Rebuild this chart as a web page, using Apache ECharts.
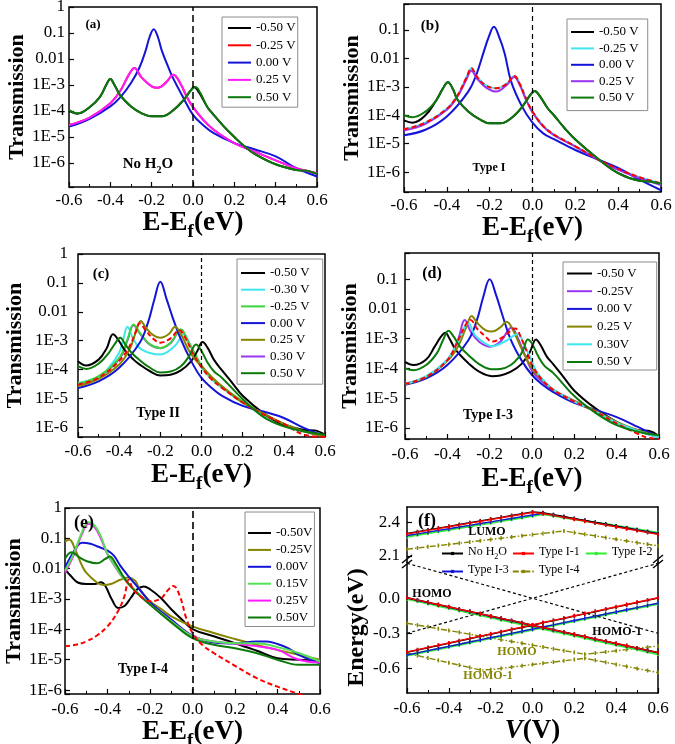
<!DOCTYPE html>
<html><head><meta charset="utf-8">
<script src="https://cdn.jsdelivr.net/npm/echarts@6/dist/echarts.min.js"></script>
<style>html,body{margin:0;padding:0;background:#fff}#c{width:675px;height:744px}</style>
</head><body><div id="c"></div>
<script>
// ---------------- tick labels ----------------
const xTickLabels = ['-0.6','-0.4','-0.2','0.0','0.2','0.4','0.6'];
const logTickExponents = [-6,-5,-4,-3,-2,-1,0];
const logTickLabels = ['1E-6','1E-5','1E-4','1E-3','0.01','0.1','1'];
const fUpperTicks = [2.1, 2.4];
const fLowerTicks = [-0.6, -0.3, 0.0];

// ---------------- legend names ----------------
const namesA = ['-0.50 V','-0.25 V','0.00 V','0.25 V','0.50 V'];
const namesB = ['-0.50 V','-0.25 V','0.00 V','0.25 V','0.50 V'];
const namesC = ['-0.50 V','-0.30 V','-0.25 V','0.00 V','0.25 V','0.30 V','0.50 V'];
const namesD = ['-0.50 V','-0.25V','0.00 V','0.25 V','0.30V','0.50 V'];
const namesE = ['-0.50V','-0.25V','0.00V','0.15V','0.25V','0.50V'];
const namesF = ['No H2O','Type I-1','Type I-2','Type I-3','Type I-4'];

// ---------------- panel (a): No H2O ----------------
const aM050 = [[-0.6,1.0e-4],[-0.56,7.9e-5],[-0.5,1.4e-4],[-0.45,3.5e-4],[-0.42,1.0e-3],[-0.4,1.7e-3],[-0.38,1.0e-3],[-0.35,3.8e-4],[-0.3,1.5e-4],[-0.25,8.3e-5],[-0.2,6.3e-5],[-0.15,6.3e-5],[-0.1,1.0e-4],[-0.05,2.4e-4],[-0.01,6.3e-4],[0.005,8.3e-4],[0.03,5.0e-4],[0.07,1.4e-4],[0.1,7.1e-5],[0.15,2.5e-5],[0.2,1.0e-5],[0.25,4.3e-6],[0.3,2.2e-6],[0.4,8.9e-7],[0.5,5.4e-7],[0.55,5.0e-7],[0.6,3.8e-7]];
const aM025 = [[-0.6,2.9e-5],[-0.5,5.6e-5],[-0.4,2.0e-4],[-0.35,6.3e-4],[-0.31,2.5e-3],[-0.283,4.5e-3],[-0.25,2.0e-3],[-0.2,8.9e-4],[-0.17,7.9e-4],[-0.13,1.26e-3],[-0.095,2.5e-3],[-0.06,1.1e-3],[-0.03,3.5e-4],[0,1.4e-4],[0.05,4.5e-5],[0.1,1.9e-5],[0.2,5.8e-6],[0.3,2.7e-6],[0.4,1.26e-6],[0.5,6.3e-7],[0.6,4.0e-7]];
const a000 = [[-0.6,2.5e-5],[-0.5,5.0e-5],[-0.4,1.5e-4],[-0.35,3.5e-4],[-0.3,1.2e-3],[-0.26,4.5e-3],[-0.23,0.02],[-0.21,0.07],[-0.19,0.14],[-0.17,0.07],[-0.15,0.02],[-0.12,5.0e-3],[-0.1,2.1e-3],[-0.05,3.6e-4],[0,7.1e-5],[0.05,2.8e-5],[0.1,1.4e-5],[0.2,5.8e-6],[0.3,3.3e-6],[0.4,1.8e-6],[0.5,6.3e-7],[0.6,3.0e-7]];
const a025 = [[-0.6,2.9e-5],[-0.5,5.6e-5],[-0.4,2.0e-4],[-0.35,6.3e-4],[-0.31,2.5e-3],[-0.283,4.5e-3],[-0.25,2.0e-3],[-0.2,8.9e-4],[-0.17,7.9e-4],[-0.13,1.26e-3],[-0.095,2.5e-3],[-0.06,1.1e-3],[-0.03,3.5e-4],[0,1.4e-4],[0.05,4.5e-5],[0.1,1.9e-5],[0.2,5.8e-6],[0.3,2.7e-6],[0.4,1.26e-6],[0.5,6.3e-7],[0.6,4.0e-7]];
const a050 = [[-0.6,1.1e-4],[-0.56,8.1e-5],[-0.5,1.4e-4],[-0.45,3.5e-4],[-0.42,1.0e-3],[-0.4,1.7e-3],[-0.38,1.0e-3],[-0.35,3.8e-4],[-0.3,1.5e-4],[-0.25,8.3e-5],[-0.2,6.3e-5],[-0.15,6.3e-5],[-0.1,1.0e-4],[-0.05,2.4e-4],[-0.01,6.3e-4],[0.012,8.3e-4],[0.035,5.0e-4],[0.07,1.4e-4],[0.1,7.1e-5],[0.15,2.5e-5],[0.2,1.0e-5],[0.25,4.3e-6],[0.3,2.2e-6],[0.4,8.9e-7],[0.5,5.4e-7],[0.55,5.0e-7],[0.6,3.8e-7]];

// ---------------- panel (b): Type I ----------------
const bM050 = [[-0.6,6.6e-5],[-0.56,5.5e-5],[-0.5,1.0e-4],[-0.45,3.3e-4],[-0.42,8.3e-4],[-0.395,1.45e-3],[-0.37,7.9e-4],[-0.35,3.5e-4],[-0.3,1.35e-4],[-0.25,7.4e-5],[-0.2,5.2e-5],[-0.15,5.2e-5],[-0.1,7.9e-5],[-0.05,1.9e-4],[-0.01,5.2e-4],[0.01,7.2e-4],[0.035,4.6e-4],[0.07,1.8e-4],[0.1,1.0e-4],[0.15,3.5e-5],[0.2,1.4e-5],[0.3,3.2e-6],[0.4,9.3e-7],[0.5,5.0e-7],[0.55,4.7e-7],[0.6,3.9e-7]];
const bM025 = [[-0.6,3.2e-5],[-0.5,5.5e-5],[-0.4,1.7e-4],[-0.35,5.0e-4],[-0.31,2.0e-3],[-0.285,4.5e-3],[-0.26,2.3e-3],[-0.22,1.15e-3],[-0.17,8.9e-4],[-0.12,1.3e-3],[-0.085,2.4e-3],[-0.06,1.3e-3],[-0.03,3.8e-4],[0,1.35e-4],[0.05,4.2e-5],[0.1,2.1e-5],[0.2,8.1e-6],[0.3,3.0e-6],[0.4,1.3e-6],[0.5,6.6e-7],[0.6,4.0e-7]];
const b000 = [[-0.6,2.0e-5],[-0.5,3.1e-5],[-0.4,9.1e-5],[-0.3,6.8e-4],[-0.26,3.0e-3],[-0.23,0.015],[-0.205,0.055],[-0.18,0.13],[-0.155,0.055],[-0.13,0.015],[-0.1,1.55e-3],[-0.05,2.1e-4],[0,5.5e-5],[0.05,2.3e-5],[0.1,1.45e-5],[0.2,6.0e-6],[0.3,2.9e-6],[0.4,1.4e-6],[0.5,5.4e-7],[0.6,2.3e-7]];
const b025 = [[-0.6,2.9e-5],[-0.5,5.0e-5],[-0.4,1.55e-4],[-0.35,4.6e-4],[-0.31,1.74e-3],[-0.285,3.7e-3],[-0.26,2.0e-3],[-0.22,9.8e-4],[-0.17,6.8e-4],[-0.12,1.17e-3],[-0.085,2.2e-3],[-0.06,1.17e-3],[-0.03,3.5e-4],[0,1.26e-4],[0.05,4.0e-5],[0.1,2.0e-5],[0.2,7.9e-6],[0.3,2.9e-6],[0.4,1.2e-6],[0.5,6.2e-7],[0.6,3.5e-7]];
const bDash = [[-0.6,3.2e-5],[-0.5,5.5e-5],[-0.4,1.7e-4],[-0.35,5.0e-4],[-0.31,2.0e-3],[-0.285,4.5e-3],[-0.26,2.3e-3],[-0.22,1.15e-3],[-0.17,8.9e-4],[-0.12,1.3e-3],[-0.085,2.4e-3],[-0.06,1.3e-3],[-0.03,3.8e-4],[0,1.35e-4],[0.05,4.2e-5],[0.1,2.1e-5],[0.2,8.1e-6],[0.3,3.0e-6],[0.4,1.3e-6],[0.5,6.6e-7],[0.6,4.0e-7]];
const b050 = [[-0.6,1.0e-4],[-0.56,8.5e-5],[-0.5,1.35e-4],[-0.45,3.3e-4],[-0.42,8.3e-4],[-0.395,1.45e-3],[-0.37,7.9e-4],[-0.35,3.5e-4],[-0.3,1.35e-4],[-0.25,7.4e-5],[-0.2,5.2e-5],[-0.15,5.2e-5],[-0.1,7.9e-5],[-0.05,1.9e-4],[-0.01,5.2e-4],[0.01,7.2e-4],[0.035,4.6e-4],[0.07,1.8e-4],[0.1,1.0e-4],[0.15,3.5e-5],[0.2,1.4e-5],[0.3,3.2e-6],[0.4,9.3e-7],[0.5,5.0e-7],[0.55,4.7e-7],[0.6,3.9e-7]];

// ---------------- panel (c): Type II ----------------
const cM050 = [[-0.6,1.95e-4],[-0.56,1.38e-4],[-0.5,2.2e-4],[-0.46,5.6e-4],[-0.43,1.66e-3],[-0.4,9.5e-4],[-0.37,4.4e-4],[-0.33,2.2e-4],[-0.3,1.48e-4],[-0.25,8.7e-5],[-0.2,6.2e-5],[-0.15,6.6e-5],[-0.1,9.3e-5],[-0.05,1.95e-4],[-0.02,4.4e-4],[0.005,8.9e-4],[0.03,5.6e-4],[0.06,2.2e-4],[0.1,9.3e-5],[0.15,3.4e-5],[0.2,1.23e-5],[0.3,3.1e-6],[0.4,1.2e-6],[0.5,8.1e-7],[0.55,7.8e-7],[0.6,5.5e-7]];
const cM030 = [[-0.6,3.4e-5],[-0.5,5.5e-5],[-0.45,1.15e-4],[-0.4,3.8e-4],[-0.38,1.1e-3],[-0.36,3.0e-3],[-0.33,1.1e-3],[-0.29,4.9e-4],[-0.2,3.3e-4],[-0.13,6.5e-4],[-0.085,1.66e-3],[-0.06,8.5e-4],[-0.03,2.9e-4],[0,1.15e-4],[0.05,4.5e-5],[0.1,2.3e-5],[0.2,6.9e-6],[0.3,2.7e-6],[0.4,1.2e-6],[0.5,7.1e-7],[0.6,4.8e-7]];
const cM025 = [[-0.6,3.2e-5],[-0.5,5.9e-5],[-0.4,2.5e-4],[-0.36,1.1e-3],[-0.33,3.6e-3],[-0.3,1.86e-3],[-0.25,7.4e-4],[-0.2,5.6e-4],[-0.15,8.5e-4],[-0.1,2.5e-3],[-0.07,1.1e-3],[-0.03,3.3e-4],[0,1.38e-4],[0.05,5.1e-5],[0.1,2.6e-5],[0.2,7.9e-6],[0.3,3.0e-6],[0.4,1.3e-6],[0.5,7.8e-7],[0.6,5.5e-7]];
const c000 = [[-0.6,2.3e-5],[-0.5,3.9e-5],[-0.4,1.15e-4],[-0.3,8.5e-4],[-0.26,4.2e-3],[-0.23,0.025],[-0.2,0.11],[-0.17,0.028],[-0.14,6.3e-3],[-0.1,1.1e-3],[-0.05,1.95e-4],[0,5.1e-5],[0.05,2.3e-5],[0.1,1.23e-5],[0.2,5.5e-6],[0.3,3.5e-6],[0.4,2.1e-6],[0.5,9.3e-7],[0.6,5.0e-7]];
const c025 = [[-0.6,2.6e-5],[-0.5,4.7e-5],[-0.4,1.48e-4],[-0.35,4.9e-4],[-0.32,1.86e-3],[-0.295,4.8e-3],[-0.27,2.8e-3],[-0.24,1.66e-3],[-0.2,1.26e-3],[-0.16,1.66e-3],[-0.128,3.0e-3],[-0.1,1.66e-3],[-0.06,4.4e-4],[-0.03,2.2e-4],[0,1.3e-4],[0.05,5.5e-5],[0.1,2.6e-5],[0.2,7.2e-6],[0.3,3.0e-6],[0.4,1.3e-6],[0.5,7.1e-7],[0.6,4.8e-7]];
const c030 = [[-0.6,3.0e-5],[-0.5,5.6e-5],[-0.4,2.3e-4],[-0.36,1.0e-3],[-0.33,3.4e-3],[-0.3,1.8e-3],[-0.25,7.2e-4],[-0.2,5.5e-4],[-0.15,8.3e-4],[-0.1,2.4e-3],[-0.07,1.05e-3],[-0.03,3.2e-4],[0,1.3e-4],[0.05,5.0e-5],[0.1,2.5e-5],[0.2,7.6e-6],[0.3,2.9e-6],[0.4,1.3e-6],[0.5,7.6e-7],[0.6,5.3e-7]];
const c050 = [[-0.6,1.3e-4],[-0.56,1.05e-4],[-0.5,1.6e-4],[-0.45,3.8e-4],[-0.42,7.9e-4],[-0.395,1.26e-3],[-0.37,7.4e-4],[-0.34,3.8e-4],[-0.3,2.1e-4],[-0.25,1.15e-4],[-0.2,7.9e-5],[-0.15,8.5e-5],[-0.1,1.3e-4],[-0.06,2.9e-4],[-0.027,7.4e-4],[0,4.4e-4],[0.03,1.7e-4],[0.06,8.7e-5],[0.1,5.1e-5],[0.2,9.5e-6],[0.3,2.3e-6],[0.4,1.07e-6],[0.5,7.1e-7],[0.6,5.5e-7]];
const cDash = [[-0.6,3.0e-5],[-0.5,5.2e-5],[-0.4,2.0e-4],[-0.35,6.3e-4],[-0.32,2.0e-3],[-0.3,4.0e-3],[-0.27,2.2e-3],[-0.23,1.1e-3],[-0.2,8.5e-4],[-0.15,1.2e-3],[-0.108,2.3e-3],[-0.08,1.3e-3],[-0.04,3.5e-4],[0,1.2e-4],[0.05,4.5e-5],[0.1,2.3e-5],[0.2,7.2e-6],[0.3,2.8e-6],[0.4,1.3e-6],[0.5,5.5e-7],[0.6,4.6e-7]];

// ---------------- panel (d): Type I-3 ----------------
const dM050 = [[-0.6,1.66e-4],[-0.56,1.3e-4],[-0.5,2.0e-4],[-0.46,5.4e-4],[-0.43,1.17e-3],[-0.41,1.58e-3],[-0.39,1.02e-3],[-0.36,4.2e-4],[-0.3,1.48e-4],[-0.25,7.8e-5],[-0.19,5.5e-5],[-0.15,5.8e-5],[-0.1,7.8e-5],[-0.05,1.4e-4],[-0.01,3.6e-4],[0.019,9.5e-4],[0.04,6.2e-4],[0.07,2.5e-4],[0.1,1.4e-4],[0.15,5.0e-5],[0.2,1.78e-5],[0.3,4.5e-6],[0.4,1.58e-6],[0.5,8.3e-7],[0.55,7.9e-7],[0.6,5.2e-7]];
const dM025 = [[-0.6,3.1e-5],[-0.5,5.2e-5],[-0.4,1.9e-4],[-0.35,9.1e-4],[-0.317,4.3e-3],[-0.29,1.74e-3],[-0.25,7.9e-4],[-0.2,5.4e-4],[-0.15,7.9e-4],[-0.096,2.4e-3],[-0.07,1.17e-3],[-0.03,2.5e-4],[0,8.3e-5],[0.05,3.5e-5],[0.1,1.86e-5],[0.2,8.1e-6],[0.3,3.5e-6],[0.4,1.48e-6],[0.5,7.9e-7],[0.6,4.7e-7]];
const d000 = [[-0.6,2.8e-5],[-0.5,4.6e-5],[-0.4,1.3e-4],[-0.3,9.1e-4],[-0.26,4.3e-3],[-0.23,0.026],[-0.2,0.1],[-0.17,0.03],[-0.14,6.3e-3],[-0.1,9.1e-4],[-0.05,1.9e-4],[0,6.0e-5],[0.05,2.8e-5],[0.1,1.6e-5],[0.2,6.9e-6],[0.3,4.0e-6],[0.4,2.3e-6],[0.5,1.07e-6],[0.6,4.7e-7]];
const d025 = [[-0.6,3.0e-5],[-0.5,5.2e-5],[-0.4,1.8e-4],[-0.35,5.4e-4],[-0.31,2.5e-3],[-0.285,5.8e-3],[-0.26,3.5e-3],[-0.22,1.95e-3],[-0.19,1.74e-3],[-0.15,2.4e-3],[-0.12,3.7e-3],[-0.09,1.95e-3],[-0.05,4.7e-4],[0,1.0e-4],[0.05,4.1e-5],[0.1,1.95e-5],[0.2,8.1e-6],[0.3,3.7e-6],[0.4,1.58e-6],[0.5,8.3e-7],[0.6,5.0e-7]];
const d030 = [[-0.6,3.0e-5],[-0.5,5.5e-5],[-0.4,2.0e-4],[-0.35,7.9e-4],[-0.3,3.3e-3],[-0.27,1.32e-3],[-0.22,6.9e-4],[-0.19,5.6e-4],[-0.13,7.9e-4],[-0.066,1.45e-3],[-0.04,6.9e-4],[-0.01,2.5e-4],[0.02,8.0e-5],[0.05,4.3e-5],[0.1,1.95e-5],[0.2,7.6e-6],[0.3,3.5e-6],[0.4,1.48e-6],[0.5,7.9e-7],[0.6,4.7e-7]];
const d050 = [[-0.6,1.0e-4],[-0.56,8.7e-5],[-0.5,1.3e-4],[-0.45,3.2e-4],[-0.42,9.1e-4],[-0.395,1.86e-3],[-0.37,1.17e-3],[-0.34,5.4e-4],[-0.3,2.8e-4],[-0.25,1.4e-4],[-0.19,9.3e-5],[-0.15,9.5e-5],[-0.1,1.3e-4],[-0.06,2.5e-4],[-0.04,4.5e-4],[-0.02,9.5e-4],[0,6.9e-4],[0.03,2.5e-4],[0.06,1.2e-4],[0.1,7.1e-5],[0.2,1.17e-5],[0.3,3.2e-6],[0.4,1.23e-6],[0.5,7.4e-7],[0.6,5.6e-7]];
const dDash = [[-0.6,3.0e-5],[-0.5,5.2e-5],[-0.4,1.9e-4],[-0.35,8.5e-4],[-0.31,3.2e-3],[-0.29,4.3e-3],[-0.26,2.2e-3],[-0.22,1.2e-3],[-0.19,8.0e-4],[-0.14,1.1e-3],[-0.08,2.2e-3],[-0.05,1.0e-3],[-0.02,3.0e-4],[0,1.3e-4],[0.05,4.0e-5],[0.1,1.9e-5],[0.2,7.6e-6],[0.3,3.5e-6],[0.4,1.4e-6],[0.5,6.3e-7],[0.55,4.6e-7],[0.6,4.3e-7]];

// ---------------- panel (e): Type I-4 ----------------
const eM050 = [[-0.6,9.5e-3],[-0.57,5.5e-3],[-0.54,3.5e-3],[-0.5,3.1e-3],[-0.46,3.1e-3],[-0.43,3.6e-3],[-0.41,2.7e-3],[-0.38,9.8e-4],[-0.35,5.1e-4],[-0.32,5.9e-4],[-0.29,1.1e-3],[-0.26,2.1e-3],[-0.23,2.6e-3],[-0.2,2.1e-3],[-0.15,1.1e-3],[-0.1,4.6e-4],[-0.05,2.1e-4],[0,1.02e-4],[0.1,5.9e-5],[0.2,3.5e-5],[0.3,2.0e-5],[0.4,1.12e-5],[0.5,1.0e-5],[0.6,9.3e-6]];
const eM025 = [[-0.6,0.078],[-0.58,0.091],[-0.55,0.039],[-0.52,0.0126],[-0.5,7.4e-3],[-0.45,3.5e-3],[-0.42,2.9e-3],[-0.38,3.2e-3],[-0.34,4.3e-3],[-0.3,5.1e-3],[-0.27,4.0e-3],[-0.25,2.2e-3],[-0.2,8.5e-4],[-0.15,4.8e-4],[-0.1,2.7e-4],[0,1.26e-4],[0.1,7.6e-5],[0.2,4.8e-5],[0.3,3.1e-5],[0.4,2.1e-5],[0.5,1.45e-5],[0.6,1.0e-5]];
const e000 = [[-0.6,0.011],[-0.57,0.027],[-0.54,0.058],[-0.52,0.071],[-0.48,0.066],[-0.45,0.055],[-0.4,0.039],[-0.37,0.027],[-0.34,0.0126],[-0.3,5.5e-3],[-0.25,2.1e-3],[-0.2,7.9e-4],[-0.1,2.1e-4],[0,6.2e-5],[0.1,3.7e-5],[0.2,3.4e-5],[0.3,4.0e-5],[0.35,4.0e-5],[0.4,3.3e-5],[0.45,2.4e-5],[0.5,1.45e-5],[0.6,7.6e-6]];
const e015 = [[-0.6,8.5e-3],[-0.56,0.03],[-0.52,0.16],[-0.49,0.34],[-0.46,0.26],[-0.43,0.11],[-0.4,0.03],[-0.37,0.014],[-0.34,6.6e-3],[-0.3,3.1e-3],[-0.25,1.4e-3],[-0.2,6.6e-4],[-0.1,1.86e-4],[0,5.9e-5],[0.1,4.0e-5],[0.2,3.5e-5],[0.3,3.5e-5],[0.4,2.6e-5],[0.5,1.66e-5],[0.6,8.7e-6]];
const e025 = [[-0.6,7.4e-3],[-0.56,0.027],[-0.52,0.14],[-0.49,0.3],[-0.46,0.23],[-0.43,0.095],[-0.4,0.03],[-0.37,0.0135],[-0.34,6.5e-3],[-0.3,3.1e-3],[-0.25,1.4e-3],[-0.2,6.6e-4],[-0.1,1.86e-4],[0,6.0e-5],[0.1,4.0e-5],[0.2,3.4e-5],[0.3,2.8e-5],[0.4,2.1e-5],[0.5,1.0e-5],[0.6,8.1e-6]];
const e050 = [[-0.6,0.021],[-0.57,0.035],[-0.53,0.023],[-0.5,0.018],[-0.45,0.015],[-0.41,0.021],[-0.39,0.025],[-0.36,0.014],[-0.33,6.2e-3],[-0.3,3.1e-3],[-0.25,1.32e-3],[-0.2,6.6e-4],[-0.1,1.7e-4],[0,5.1e-5],[0.1,3.1e-5],[0.2,2.4e-5],[0.3,1.66e-5],[0.4,1.0e-5],[0.5,6.8e-6],[0.6,6.8e-6]];
const eDash = [[-0.6,2.8e-5],[-0.55,3.1e-5],[-0.5,4.0e-5],[-0.45,6.3e-5],[-0.4,1.26e-4],[-0.35,4.0e-4],[-0.32,1.26e-3],[-0.3,4.3e-3],[-0.28,2.1e-3],[-0.25,1.32e-3],[-0.2,8.5e-4],[-0.15,1.02e-3],[-0.12,1.8e-3],[-0.09,2.7e-3],[-0.06,1.26e-3],[-0.03,2.4e-4],[0,7.6e-5],[0.05,2.9e-5],[0.1,1.66e-5],[0.2,6.3e-6],[0.3,2.5e-6],[0.4,1.29e-6],[0.5,7.4e-7],[0.55,5.5e-7],[0.6,4.0e-7]];

// ---------------- panel (f): energy levels vs bias ----------------
const fVolts = [-0.6,-0.55,-0.5,-0.45,-0.4,-0.35,-0.3,-0.25,-0.2,-0.15,-0.1,-0.05,0,0.05,0.1,0.15,0.2,0.25,0.3,0.35,0.4,0.45,0.5,0.55,0.6];
const fLumoNoH2O = [2.300,2.316,2.332,2.348,2.364,2.380,2.396,2.412,2.428,2.444,2.460,2.476,2.492,2.485,2.468,2.451,2.433,2.416,2.399,2.382,2.365,2.348,2.330,2.313,2.296];
const fLumoI1 = [2.296,2.312,2.328,2.344,2.360,2.376,2.392,2.408,2.424,2.440,2.456,2.472,2.488,2.478,2.461,2.444,2.427,2.410,2.393,2.376,2.359,2.342,2.326,2.309,2.292];
const fLumoI2 = [2.272,2.288,2.303,2.319,2.334,2.350,2.365,2.381,2.396,2.412,2.427,2.443,2.458,2.474,2.459,2.443,2.428,2.413,2.397,2.382,2.367,2.352,2.336,2.321,2.306];
const fLumoI3 = [2.282,2.297,2.312,2.328,2.343,2.358,2.373,2.389,2.404,2.419,2.434,2.450,2.465,2.480,2.464,2.447,2.431,2.415,2.398,2.382,2.365,2.349,2.333,2.316,2.300];
const fLumoI4 = [2.160,2.171,2.182,2.193,2.203,2.214,2.225,2.236,2.247,2.258,2.269,2.280,2.290,2.301,2.312,2.323,2.308,2.293,2.279,2.264,2.249,2.234,2.219,2.205,2.190];
const fHomoANoH2O = [0.005,-0.015,-0.034,-0.054,-0.073,-0.093,-0.112,-0.132,-0.152,-0.171,-0.191,-0.210,-0.230,-0.250,-0.269,-0.289,-0.308,-0.328,-0.348,-0.367,-0.387,-0.406,-0.426,-0.446,-0.465];
const fHomoBNoH2O = [-0.463,-0.444,-0.424,-0.405,-0.386,-0.366,-0.347,-0.327,-0.308,-0.289,-0.269,-0.250,-0.231,-0.211,-0.192,-0.173,-0.153,-0.134,-0.115,-0.095,-0.076,-0.056,-0.037,-0.018,0.002];
const fHomoAI1 = [0.004,-0.016,-0.035,-0.055,-0.074,-0.094,-0.113,-0.133,-0.153,-0.172,-0.192,-0.211,-0.231,-0.251,-0.270,-0.290,-0.309,-0.329,-0.349,-0.368,-0.388,-0.407,-0.427,-0.447,-0.466];
const fHomoBI1 = [-0.460,-0.441,-0.421,-0.402,-0.383,-0.363,-0.344,-0.324,-0.305,-0.286,-0.266,-0.247,-0.228,-0.208,-0.189,-0.170,-0.150,-0.131,-0.112,-0.092,-0.073,-0.053,-0.034,-0.015,0.005];
const fHomoAI2 = [-0.004,-0.024,-0.044,-0.064,-0.084,-0.104,-0.124,-0.144,-0.164,-0.184,-0.204,-0.224,-0.244,-0.262,-0.281,-0.301,-0.320,-0.340,-0.360,-0.379,-0.399,-0.418,-0.438,-0.458,-0.478];
const fHomoBI2 = [-0.490,-0.472,-0.453,-0.435,-0.416,-0.398,-0.379,-0.361,-0.342,-0.324,-0.305,-0.287,-0.268,-0.250,-0.232,-0.213,-0.195,-0.176,-0.158,-0.139,-0.121,-0.102,-0.084,-0.065,-0.047];
const fHomoAI3 = [0.002,-0.018,-0.038,-0.057,-0.077,-0.097,-0.116,-0.136,-0.156,-0.175,-0.195,-0.215,-0.234,-0.253,-0.273,-0.292,-0.312,-0.331,-0.351,-0.370,-0.390,-0.410,-0.429,-0.449,-0.468];
const fHomoBI3 = [-0.486,-0.468,-0.449,-0.431,-0.412,-0.394,-0.375,-0.357,-0.338,-0.320,-0.301,-0.283,-0.264,-0.246,-0.228,-0.209,-0.191,-0.172,-0.154,-0.135,-0.117,-0.098,-0.080,-0.061,-0.043];
const fHomoI4 = [-0.214,-0.230,-0.245,-0.261,-0.277,-0.292,-0.308,-0.324,-0.339,-0.355,-0.370,-0.386,-0.402,-0.417,-0.433,-0.449,-0.464,-0.480,-0.470,-0.460,-0.450,-0.440,-0.429,-0.419,-0.409];
const fHomo1I4 = [-0.471,-0.491,-0.512,-0.532,-0.553,-0.573,-0.594,-0.614,-0.612,-0.601,-0.590,-0.579,-0.568,-0.557,-0.547,-0.536,-0.525,-0.514,-0.532,-0.549,-0.567,-0.584,-0.602,-0.619,-0.637];
const fBiasVolts = [-0.6, 0.6];
const fMuLeft = [0.3, -0.3];
const fMuRight = [-0.3, 0.3];

// ================= styling / building =================
const FONT = 'Liberation Serif';
const BLK = '#000';
const C = {black:'#000000', red:'#ff0000', blue:'#1414d8', magenta:'#ff1aff', dkgreen:'#0b7a0b',
  cyan:'#3fe6ee', purple:'#9a35f0', green:'#3ad63a', olive:'#858500', ltgreen:'#55e055', fgreen:'#33ee33'};

function fmtX(v){ const i = Math.round((v + 0.6) / 0.2); return xTickLabels[i] !== undefined ? xTickLabels[i] : ''; }
function fmtLog(v){ const e = Math.log10(v); const r = Math.round(e); if (Math.abs(e - r) > 1e-6) return ''; const i = logTickExponents.indexOf(r); return i >= 0 ? logTickLabels[i] : ''; }

const RICH_T = {
  m:{fontFamily:FONT,fontSize:27,fontWeight:'bold',color:BLK,verticalAlign:'bottom',padding:[0,0,5,0]},
  s:{fontFamily:FONT,fontSize:19,fontWeight:'bold',color:BLK,verticalAlign:'bottom'},
  i:{fontFamily:FONT,fontSize:27,fontWeight:'bold',fontStyle:'italic',color:BLK,verticalAlign:'bottom',padding:[0,0,5,0]}
};

// layout of panels (pixel style info only)
const P = [
  {g:[69,7,248,180],   ymin:1.19e-7, ymax:1,    ylm:4,  yng:38, xlm:5, xng:23, lg:{left:222,top:17,pt:4,pb:3,pl:5,pr:2,gap:3.3,iw:23}},
  {g:[404,4,257,188],  ymin:2.0e-7,  ymax:0.82, ylm:4,  yng:34, xlm:5, xng:21, lg:{left:567,top:19,pt:6,pb:6,pl:3,pr:9,gap:2.4,iw:23}},
  {g:[78,254,247,183], ymin:4.6e-7,  ymax:1,    ylm:10, yng:52, xlm:6, xng:25, lg:{left:237,top:259,pt:7,pb:4,pl:3,pr:13,gap:2.7,iw:24}},
  {g:[405,253,254,186],ymin:4.2e-7,  ymax:0.77, ylm:7,  yng:40, xlm:7, xng:27, lg:{left:563,top:262,pt:4.5,pb:1,pl:3,pr:20,gap:3.7,iw:25}},
  {g:[65,508,255,186], ymin:7.4e-7,  ymax:1,    ylm:3,  yng:40, xlm:7, xng:24, lg:{left:245,top:512,pt:14,pb:2,pl:2,pr:2,gap:2.9,iw:23}}
];

const panelSeries = [
  ['a:', namesA, [['a:-0.50 V',aM050,C.black],['a:-0.25 V',aM025,C.red],['a:0.00 V',a000,C.blue],['a:0.25 V',a025,C.magenta],['a:0.50 V',a050,C.dkgreen]], [7,4], 1.5],
  ['b:', namesB, [['b:-0.50 V',bM050,C.black],['b:-0.25 V',bM025,C.cyan],['b:0.00 V',b000,C.blue],['b:0.25 V',b025,C.purple],['b:dash',bDash,C.red,true],['b:0.50 V',b050,C.dkgreen]], [5,4], 1.2],
  ['c:', namesC, [['c:0.30 V',c030,C.purple],['c:-0.30 V',cM030,C.cyan],['c:-0.25 V',cM025,C.green],['c:-0.50 V',cM050,C.black],['c:0.00 V',c000,C.blue],['c:0.25 V',c025,C.olive],['c:dash',cDash,C.red,true],['c:0.50 V',c050,C.dkgreen]], [4,3], 1.2],
  ['d:', namesD, [['d:-0.50 V',dM050,C.black],['d:-0.25V',dM025,C.purple],['d:0.00 V',d000,C.blue],['d:0.25 V',d025,C.olive],['d:0.30V',d030,C.cyan],['d:dash',dDash,C.red,true],['d:0.50 V',d050,C.dkgreen]], [4,3], 1.2],
  ['e:', namesE, [['e:-0.50V',eM050,C.black],['e:-0.25V',eM025,C.olive],['e:0.00V',e000,C.blue],['e:0.25V',e025,C.magenta],['e:0.15V',e015,C.ltgreen],['e:0.50V',e050,C.dkgreen],['e:dash',eDash,C.red,true]], [7,4], 1.6]
];

const grids = [], xAxes = [], yAxes = [], legends = [], series = [];

P.forEach((p, i) => {
  grids.push({left:p.g[0], top:p.g[1], width:p.g[2], height:p.g[3], show:true, borderColor:BLK, borderWidth:1.5, backgroundColor:'transparent', outerBoundsMode:'none', containLabel:false});
  xAxes.push({type:'value', gridIndex:i, min:-0.6, max:0.6, interval:0.2,
    axisLine:{show:false, onZero:false}, splitLine:{show:false},
    axisTick:{inside:true, length:5, lineStyle:{color:BLK, width:1.2}},
    minorTick:{show:true, splitNumber:2, length:3, lineStyle:{color:BLK, width:1}},
    axisLabel:{margin:p.xlm, fontFamily:FONT, fontSize:17, color:BLK, formatter:fmtX},
    name:'{m|E-E}{s|f}{m|(eV)}', nameLocation:'middle', nameGap:p.xng, nameTextStyle:{rich:RICH_T}});
  yAxes.push({type:'log', logBase:10, gridIndex:i, min:p.ymin, max:p.ymax, splitNumber:7,
    axisLine:{show:false, onZero:false}, splitLine:{show:false},
    axisTick:{inside:true, length:5, lineStyle:{color:BLK, width:1.2}},
    axisLabel:{margin:p.ylm, fontFamily:FONT, fontSize:17, color:BLK, formatter:fmtLog},
    name:'Transmission', nameLocation:'middle', nameGap:p.yng,
    nameTextStyle:{fontFamily:FONT, fontSize:22, fontWeight:'bold', color:BLK}});
  const [prefix, names, list, dash, dw] = panelSeries[i];
  const L = p.lg;
  legends.push({orient:'vertical', left:L.left, top:L.top, selectedMode:false,
    data:names.map(n => prefix + n), formatter:n => n.slice(prefix.length),
    itemWidth:L.iw, itemHeight:10, itemGap:L.gap, padding:[L.pt, L.pr, L.pb, L.pl],
    itemStyle:{opacity:0, borderWidth:0},
    borderColor:'#8c8c8c', borderWidth:1, backgroundColor:'#fff',
    textStyle:{fontFamily:FONT, fontSize:13, color:BLK, lineHeight:14}});
  list.forEach((it, k) => {
    const [name, data, color, dashed] = it;
    const s = {type:'line', name, data, xAxisIndex:i, yAxisIndex:i, smooth:0.4, symbol:'none', showSymbol:false,
      lineStyle:{color, width:2, type: dashed ? [5,3] : 'solid'}, itemStyle:{color}, silent:true, emphasis:{disabled:true}};
    if (k === 0) s.markLine = {silent:true, symbol:['none','none'], label:{show:false},
      lineStyle:{color:BLK, type:dash, width:dw}, data:[{xAxis:0}], animation:false};
    series.push(s);
  });
});

// ---- panel (f): broken y axis => two stacked grids ----
grids.push({left:407, top:507, width:251, height:55, show:false, outerBoundsMode:'none', containLabel:false});
grids.push({left:407, top:562, width:251, height:131, show:false, outerBoundsMode:'none', containLabel:false});
const frameLine = {show:true, onZero:false, lineStyle:{color:BLK, width:1.5}};
xAxes.push({type:'value', gridIndex:5, min:-0.6, max:0.6, interval:0.2, position:'top', axisLine:frameLine,
  axisTick:{show:false}, axisLabel:{show:false}, splitLine:{show:false}});
xAxes.push({type:'value', gridIndex:6, min:-0.6, max:0.6, interval:0.2, position:'bottom', axisLine:frameLine,
  splitLine:{show:false}, axisTick:{inside:true, length:5, lineStyle:{color:BLK, width:1.2}},
  minorTick:{show:true, splitNumber:2, length:3, lineStyle:{color:BLK, width:1}},
  axisLabel:{margin:7, fontFamily:FONT, fontSize:17, color:BLK, formatter:fmtX},
  name:'{i|V}{m|(V)}', nameLocation:'middle', nameGap:25, nameTextStyle:{rich:RICH_T}});
const fLab = {fontFamily:FONT, fontSize:17, color:BLK, margin:7, formatter:v => v.toFixed(1)};
yAxes.push({type:'value', gridIndex:5, min:2.0466, max:2.536, position:'left', axisLine:frameLine, splitLine:{show:false},
  axisTick:{inside:true, length:5, customValues:fUpperTicks, lineStyle:{color:BLK, width:1.2}},
  axisLabel:Object.assign({customValues:fUpperTicks}, fLab)});
yAxes.push({type:'value', gridIndex:5, min:2.0466, max:2.536, position:'right', axisLine:frameLine, splitLine:{show:false},
  axisTick:{show:false}, axisLabel:{show:false}});
yAxes.push({type:'value', gridIndex:6, min:-0.812, max:0.311, position:'left', axisLine:frameLine, splitLine:{show:false},
  axisTick:{inside:true, length:5, customValues:fLowerTicks, lineStyle:{color:BLK, width:1.2}},
  axisLabel:Object.assign({customValues:fLowerTicks}, fLab),
  name:'Energy(eV)', nameLocation:'middle', nameGap:36,
  nameTextStyle:{fontFamily:FONT, fontSize:24, fontWeight:'bold', color:BLK}});
yAxes.push({type:'value', gridIndex:6, min:-0.812, max:0.311, position:'right', axisLine:frameLine, splitLine:{show:false},
  axisTick:{show:false}, axisLabel:{show:false}});

const zipV = arr => fVolts.map((v, i) => [v, arr[i]]);
function lvl(name, arr, color, upper, dashDot) {
  return {type:'line', name, data:zipV(arr), xAxisIndex: upper ? 5 : 6, yAxisIndex: upper ? 5 : 7,
    symbol:'rect', symbolSize:[1.5,4], showSymbol:true, silent:true, emphasis:{disabled:true},
    lineStyle:{color, width: color === C.fgreen ? 2.4 : 1.4, type: dashDot ? [6,2,1.5,2] : 'solid'}, itemStyle:{color}};
}
const fTypes = [
  ['Type I-4', fLumoI4, fHomoI4, fHomo1I4, C.olive, true],
  ['Type I-2', fLumoI2, fHomoAI2, fHomoBI2, C.fgreen, false],
  ['Type I-3', fLumoI3, fHomoAI3, fHomoBI3, C.blue, false],
  ['No H2O', fLumoNoH2O, fHomoANoH2O, fHomoBNoH2O, C.black, false],
  ['Type I-1', fLumoI1, fHomoAI1, fHomoBI1, C.red, false]
];
fTypes.forEach(t => {
  series.push(lvl(t[0], t[1], t[4], true, t[5]));
  series.push(lvl(t[0], t[2], t[4], false, t[5]));
  series.push(lvl(t[0], t[3], t[4], false, t[5]));
});
[fMuLeft, fMuRight].forEach(arr => series.push({type:'line', name:'bias', xAxisIndex:6, yAxisIndex:7,
  data:fBiasVolts.map((v, i) => [v, arr[i]]), symbol:'none', silent:true,
  lineStyle:{color:BLK, width:1.2, type:[3,2.5]}}));

const fLegRich = {n:{fontFamily:FONT, fontSize:12, color:BLK, verticalAlign:'bottom', padding:[0,0,3,0]},
                  s:{fontFamily:FONT, fontSize:8, color:BLK, verticalAlign:'bottom'}};
const fLegFmt = n => n === 'No H2O' ? '{n|No H}{s|2}{n|O}' : '{n|' + n + '}';
legends.push({orient:'horizontal', left:441, top:546, padding:0, itemGap:5, itemWidth:21, itemHeight:4, selectedMode:false,
  data:namesF.slice(0,3), formatter:fLegFmt, textStyle:{fontFamily:FONT, fontSize:12, color:BLK, rich:fLegRich}});
legends.push({orient:'horizontal', left:441, top:564, padding:0, itemGap:3, itemWidth:21, itemHeight:4, selectedMode:false,
  data:namesF.slice(3), formatter:fLegFmt, textStyle:{fontFamily:FONT, fontSize:12, color:BLK, rich:fLegRich}});

// ---- annotations ----
function txt(text, x, y, fs, color) {
  return {type:'text', x, y, z:100, silent:true, style:{text, fontFamily:FONT, fontSize:fs, fontWeight:'bold', fill:color || BLK, align:'center', verticalAlign:'middle'}};
}
const graphic = [
  txt('(a)', 93, 25, 13), txt('(b)', 430, 26, 15), txt('(c)', 101, 274, 15), txt('(d)', 432, 274, 16), txt('(e)', 84, 523, 18), txt('(f)', 427, 521, 18),
  {type:'text', x:148, y:166, z:100, silent:true, style:{text:'{n|No H}{s|2}{n|O}', align:'center', verticalAlign:'middle',
    rich:{n:{fontFamily:FONT, fontSize:15, fontWeight:'bold', fill:BLK, verticalAlign:'bottom', padding:[0,0,3,0]},
          s:{fontFamily:FONT, fontSize:10, fontWeight:'bold', fill:BLK, verticalAlign:'bottom'}}}},
  txt('Type I', 489, 168, 12), txt('Type II', 158, 413, 14), txt('Type I-3', 488, 415, 14), txt('Type I-4', 143, 669, 14),
  txt('LUMO', 487, 532, 12), txt('HOMO', 432, 594, 12), txt('HOMO-1', 617, 632, 12),
  txt('HOMO', 517, 652, 12, C.olive), txt('HOMO-1', 488, 676, 12, C.olive),
  {type:'line', z:100, silent:true, shape:{x1:402, y1:563, x2:412, y2:555}, style:{stroke:BLK, lineWidth:1.4}},
  {type:'line', z:100, silent:true, shape:{x1:402, y1:568, x2:412, y2:560}, style:{stroke:BLK, lineWidth:1.4}},
  {type:'line', z:100, silent:true, shape:{x1:653, y1:563, x2:663, y2:555}, style:{stroke:BLK, lineWidth:1.4}},
  {type:'line', z:100, silent:true, shape:{x1:653, y1:568, x2:663, y2:560}, style:{stroke:BLK, lineWidth:1.4}}
];

const chart = echarts.init(document.getElementById('c'), null, {renderer:'canvas'});
chart.setOption({backgroundColor:'#fff', animation:false, grid:grids, xAxis:xAxes, yAxis:yAxes, legend:legends, series, graphic});
</script></body></html>
